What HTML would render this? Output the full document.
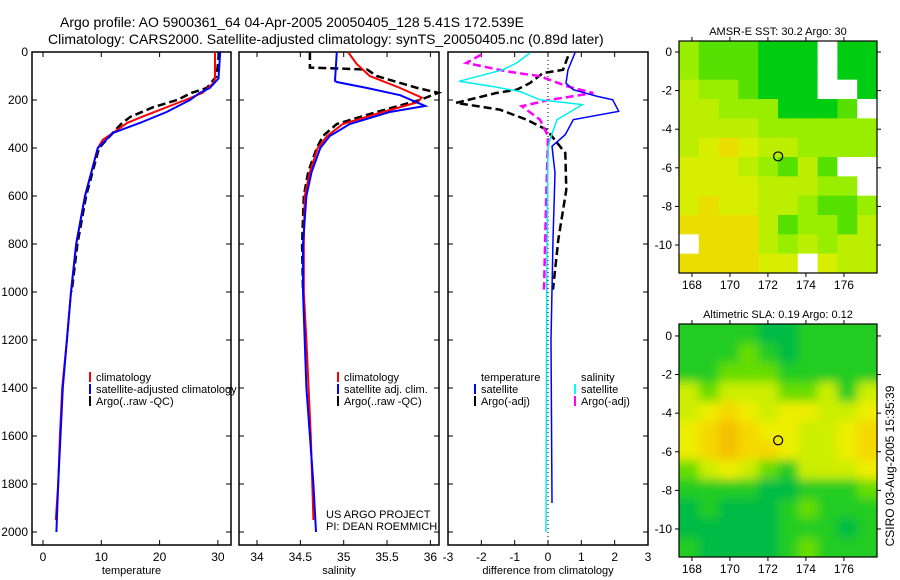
<!DOCTYPE html>
<html><head><meta charset="utf-8"><style>
body{margin:0;background:#fff}
svg{display:block;font-family:"Liberation Sans",sans-serif}
</style></head><body>
<svg id="fig" width="900" height="580" viewBox="0 0 900 580" xmlns="http://www.w3.org/2000/svg">
<defs>
<clipPath id="c1"><rect x="679" y="41" width="198" height="232"/></clipPath>
<clipPath id="c2"><rect x="679" y="324" width="198" height="233"/></clipPath>
<filter id="bl" x="-10%" y="-10%" width="120%" height="120%"><feGaussianBlur stdDeviation="5"/></filter>
</defs>
<text x="60" y="27" font-size="14">Argo profile: AO 5900361_64 04-Apr-2005 20050405_128 5.41S 172.539E</text>
<text x="48" y="44" font-size="14">Climatology: CARS2000. Satellite-adjusted climatology: synTS_20050405.nc (0.89d later)</text>
<g id="g"></g>
</svg>
<script>
// ---- data ----
const tDepthClim=[0,110,130,170,200,268,296,337,365,400,600,800,1000,1200,1400,1600,1800,1950];
const tClim=[29.5,29.5,29.2,27.4,24.4,17.2,14.4,12.0,10.3,9.4,7.2,5.7,4.8,4.1,3.3,2.9,2.6,2.2];
const tDepthSat=[0,110,150,170,200,250,296,337,400,600,800,1000,1200,1400,1600,1800,2000];
const tSat=[30.4,30.1,28.6,26.9,25.2,21.2,16.6,12.0,9.4,7.2,5.7,4.8,4.1,3.4,3.0,2.6,2.3];
const tDepthArgo=[0,100,150,170,200,230,270,300,350,400,600,800,1000];
const tArgo=[30.2,29.8,28.1,25.5,23.0,18.9,15.0,13.4,11.5,9.6,7.4,5.9,4.9];

const sDepthClim=[0,50,100,150,190,210,250,300,350,400,500,600,800,1000,1200,1600,1950];
const sClim=[35.05,35.15,35.30,35.65,35.90,35.85,35.45,34.99,34.81,34.70,34.61,34.55,34.54,34.54,34.57,34.62,34.65];
const sDepthSat=[0,120,125,150,180,225,250,300,350,400,500,600,800,1000,1400,1800,2000];
const sSat=[34.92,34.90,34.92,35.27,35.65,35.94,35.53,35.07,34.84,34.73,34.63,34.57,34.53,34.53,34.57,34.65,34.68];
const sDepthArgo=[0,65,73,100,150,170,200,250,300,350,400,500,600,800,1000];
const sArgo=[34.61,34.61,35.27,35.38,35.85,36.09,35.88,35.38,34.92,34.76,34.69,34.59,34.54,34.52,34.53];

const dDepthTSat=[0,74,130,157,185,199,247,282,344,393,504,782,1200,1879];
const dTSat=[0.82,0.6,0.54,0.76,1.48,1.94,2.12,0.76,0.52,0.12,0.21,0.15,0.09,0.12];
const dDepthSSat=[4,46,74,122,143,164,199,219,282,365,400,1000,2000];
const dSSat=[-0.55,-0.94,-1.36,-2.67,-1.7,-0.85,-0.24,1.03,0.27,0.06,0,-0.04,-0.06];
const dDepthTArgo=[18,74,88,130,157,171,212,240,282,324,421,574,782,990];
const dTArgo=[0.6,0.45,-0.15,-0.55,-0.94,-1.55,-2.76,-1.45,-0.64,-0.04,0.52,0.55,0.31,0.15];
const dDepthSArgo=[11,46,81,101,143,171,199,226,282,351,643,990];
const dSArgo=[-2,-2.45,-1.24,-0.24,0.57,1.36,0.06,-0.79,-0.24,0,-0.06,-0.12];

const depthTicks=[0,200,400,600,800,1000,1200,1400,1600,1800,2000];
const tTicks=[0,10,20,30];
const sTicks=[34,34.5,35,35.5,36];
const dTicks=[-3,-2,-1,0,1,2,3];
const lonTicks=[168,170,172,174,176];
const latTicks=[0,-2,-4,-6,-8,-10];

const sstGrid=["LGGGDDDWDD","LGGGDDDWDD","YLLGDDDWWD","YYLLLDDDGW","YYYYLLLLLL","YyoyYYLLLL","yyyYLGYGWW","yyyyYYYLLW","yoyyYYLGGL","ooooYGLLGY","WoooYLYLYY","ooooyyWyYY"];
const slaGrid=["GGGGDDGGGG","GGGLGDGGGG","GGLLLGGGGG","YLYYYLLYGY","YyoyYyyYYy","yoOoyyYYyo","yoOooyYYyo","LYyYLGYYYy","GGGGDDGGGL","DGDDDGLGGG","DDDDDGGGDG","GDDDDGLGGG"];
const argoLon=172.539, argoLat=-5.41;

// ---- helpers ----
const NS="http://www.w3.org/2000/svg";
const G=document.getElementById('g');
function mk(tag,attrs,parent){const e=document.createElementNS(NS,tag);for(const k in attrs)e.setAttribute(k,attrs[k]);(parent||G).appendChild(e);return e;}
const Y0=52,PY=0.24;
const yD=d=>Y0+d*PY;
const xT=v=>43+v*5.83;
const xS=v=>257+(v-34)*86.7;
const xDf=v=>548+v*33.33;

function line(xs,ds,xf,col,w,dash,name){
  const pts=xs.map((v,i)=>xf(v).toFixed(1)+','+yD(ds[i]).toFixed(1)).join(' ');
  const p=mk('polyline',{points:pts,fill:'none',stroke:col,'stroke-width':w});
  if(dash)p.setAttribute('stroke-dasharray',dash);
  
  
}
function txt(x,y,s,size,anchor,name){const t=mk('text',{x:x,y:y,'font-size':size,'text-anchor':anchor||'start'});t.textContent=s;
  
  
  return t;}

function panel(x0,x1,ticks,xf,label,name,ylabels){
  const r=mk('rect',{x:x0,y:Y0,width:x1-x0,height:545-Y0,fill:'none',stroke:'#000','stroke-width':1.5});
  
  
  ticks.forEach(v=>{const x=xf(v);
    mk('line',{x1:x,x2:x,y1:545,y2:540,stroke:'#000'});mk('line',{x1:x,x2:x,y1:Y0,y2:Y0+5,stroke:'#000'});
    txt(x,561,String(v),12,'middle',name+'-x-tick-label');});
  depthTicks.forEach(d=>{const y=yD(d);
    mk('line',{x1:x0,x2:x0+5,y1:y,y2:y,stroke:'#000'});mk('line',{x1:x1-5,x2:x1,y1:y,y2:y,stroke:'#000'});
    if(ylabels)txt(x0-4,y+4,String(d),12,'end','depth-tick-label');});
  txt((x0+x1)/2,574,label,11,'middle',name+'-x-axis-title');
}
panel(32,231,tTicks,xT,'temperature','temperature-panel',true);
panel(239,439,sTicks,xS,'salinity','salinity-panel',false);
panel(448,648,dTicks,xDf,'difference from climatology','difference-panel',false);

line(tArgo,tDepthArgo,xT,'#000',2.5,'8,4','temp-argo-line');
line(tClim,tDepthClim,xT,'#f00',2,null,'temp-climatology-line');
line(tSat,tDepthSat,xT,'#00f',2,null,'temp-satellite-line');
line(sArgo,sDepthArgo,xS,'#000',2.5,'8,4','sal-argo-line');
line(sClim,sDepthClim,xS,'#f00',2,null,'sal-climatology-line');
line(sSat,sDepthSat,xS,'#00f',2,null,'sal-satellite-line');
const z=mk('line',{x1:xDf(0),x2:xDf(0),y1:Y0,y2:545,stroke:'#000','stroke-dasharray':'1,3'});


line(dTArgo,dDepthTArgo,xDf,'#000',2.5,'8,4','diff-temp-argo-line');
line(dSArgo,dDepthSArgo,xDf,'#f0f',2.5,'8,4','diff-sal-argo-line');
line(dSSat,dDepthSSat,xDf,'#0ee',1.5,null,'diff-sal-satellite-line');
line(dTSat,dDepthTSat,xDf,'#00f',1.5,null,'diff-temp-satellite-line');

function legend(x,y,items,prefix){items.forEach((it,i)=>{
  if(it[1]){const m=mk('rect',{x:x,y:y+i*12-9,width:2,height:10,fill:it[1]});
    
    }
  const t=txt(x+7,y+i*12,it[0],11,'start',prefix+'-label');});}
legend(89,381,[['climatology','#f00'],['satellite-adjusted climatology','#00f'],['Argo(..raw -QC)','#000']],'temp-legend');
legend(337,381,[['climatology','#f00'],['satellite adj. clim.','#00f'],['Argo(..raw -QC)','#000']],'sal-legend');
legend(474,381,[['temperature',null],['satellite','#00f'],['Argo(-adj)','#000']],'diff-temp-legend');
legend(574,381,[['salinity',null],['satellite','#0ff'],['Argo(-adj)','#f0f']],'diff-sal-legend');
txt(326,518,'US ARGO PROJECT',11,'start','project-credit');
txt(326,530,'PI: DEAN ROEMMICH',11,'start','pi-credit');

// ---- maps ----
const LON0=167.32,LONS=19.0,LATS=19.3;
const sstCol={D:'#00cc11',G:'#55e000',L:'#99ee00',Y:'#bbee00',y:'#d8ee00',o:'#eadd00',O:'#f2c800',W:'#ffffff'};
const slaCol={D:'#00bb44',G:'#22cc22',L:'#66dd00',Y:'#ccee00',y:'#eeee00',o:'#f5d800',O:'#f5c000'};
function map(top,bot,lat0,grid,cols,title,name,clip,blur){
  const xL=lon=>679+(lon-LON0)*LONS, yL=lat=>top+(lat0-lat)*LATS;
  const g=mk('g',{'clip-path':'url(#'+clip+')'});
  
  
  const inner=mk('g',blur?{filter:'url(#bl)'}:{},g);
  const nr=grid.length,nc=grid[0].length,cw=198/nc,ch=(bot-top)/nr;
  if(blur)mk('rect',{x:660,y:top-20,width:240,height:bot-top+40,fill:cols.G},inner);
  grid.forEach((row,r)=>row.split('').forEach((c,k)=>{
    const cell=mk('rect',{x:679+k*cw-(blur&&k==0?20:0),y:top+r*ch-(blur&&r==0?20:0),width:cw+0.5+(blur&&(k==0||k==nc-1)?20:0),height:ch+0.5+(blur&&(r==0||r==nr-1)?20:0),fill:cols[c]},inner);
    
    
  }));
  const f=mk('rect',{x:679,y:top,width:198,height:bot-top,fill:'none',stroke:'#000','stroke-width':1.2});
  
  
  const c=mk('circle',{cx:xL(argoLon),cy:yL(argoLat),r:4.5,fill:'none',stroke:'#000','stroke-width':1.2});
  
  
  lonTicks.forEach(l=>{const x=xL(l);mk('line',{x1:x,x2:x,y1:top,y2:top-4,stroke:'#000'});mk('line',{x1:x,x2:x,y1:bot,y2:bot+4,stroke:'#000'});
    txt(x,bot+16,String(l),12,'middle',name+'-lon-label');});
  latTicks.forEach(l=>{const y=yL(l);mk('line',{x1:679,x2:675,y1:y,y2:y,stroke:'#000'});mk('line',{x1:877,x2:881,y1:y,y2:y,stroke:'#000'});
    txt(672,y+4,String(l),12,'end',name+'-lat-label');});
  txt(778,top-6,title,11,'middle',name+'-title');
}
map(41,273,0.57,sstGrid,sstCol,'AMSR-E SST: 30.2 Argo: 30','sst-map','c1',false);
map(324,557,0.62,slaGrid,slaCol,'Altimetric SLA: 0.19 Argo: 0.12','sla-map','c2',true);
const st=txt(0,0,'CSIRO 03-Aug-2005 15:35:39',12,'middle','timestamp');
st.setAttribute('transform','translate(894,466) rotate(-90)');
</script>
</body></html>
